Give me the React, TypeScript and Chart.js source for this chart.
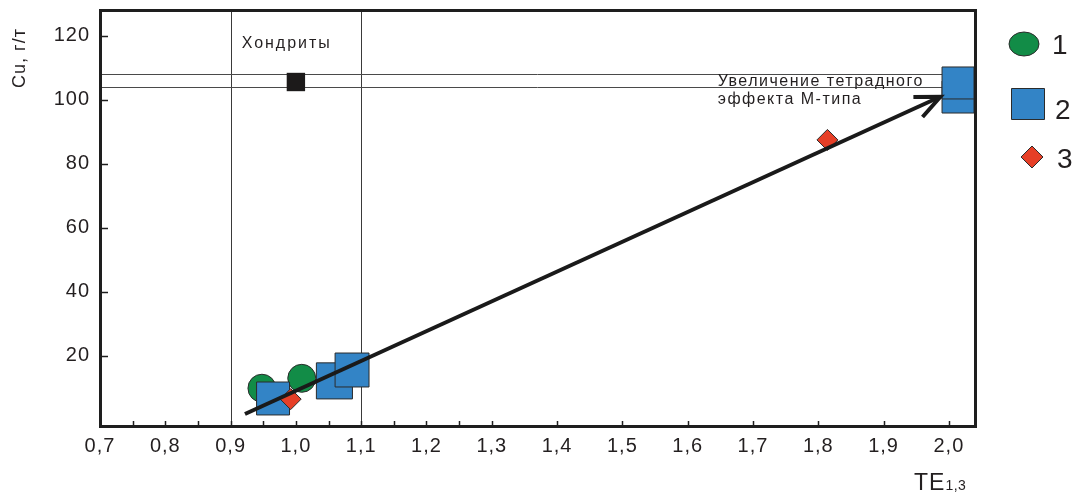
import { useEffect, useRef } from "react";
import { Chart, registerables } from "chart.js";

Chart.register(...registerables);

// Samples: tetrad effect TE1,3 against copper content (g/t)
const group1TE = [0.948, 1.009];
const group1Cu = [9.8, 12.9];
const group2TE = [0.965, 1.059, 1.086, 2.014, 2.014];
const group2Cu = [6.6, 12.1, 15.5, 100.8, 105.2];
const group3TE = [0.992, 1.814];
const group3Cu = [6.4, 87.4];

// Chondrite reference value and its guide band
const chondriteTE = [1.0];
const chondriteCu = [105.5];
const chondriteTEBand = [0.9, 1.1];
const chondriteCuBand = [104, 108];

// Trend arrow (start and end, in TE / Cu units)
const trendFrom = [0.922, 1.75];
const trendTo = [1.987, 100.9];

// Axis ticks
const xTickLabels = [0.7, 0.8, 0.9, 1.0, 1.1, 1.2, 1.3, 1.4, 1.5, 1.6, 1.7, 1.8, 1.9, 2.0];
const xTickMarks = [0.75, 0.8, 0.85, 0.9, 0.95, 1.0, 1.05, 1.1, 1.15, 1.2, 1.25, 1.3, 1.4, 1.5, 1.6, 1.7, 1.8, 1.9, 2.0];
const yTickLabels = [20, 40, 60, 80, 100, 120];
const legendLabels = ["1", "2", "3"];

const INK = "#231f20";
const GREEN = "#128c47";
const BLUE = "#3384c6";
const RED = "#e63f27";
const EDGE = "#2b2b2b";
const FONT = "'Liberation Sans', Arial, sans-serif";

const fmt = (v: number) => v.toFixed(1).replace(".", ",");
const toPoints = (xs: number[], ys: number[]) => xs.map((x, i) => ({ x, y: ys[i] }));

const spacingPlugin = {
  id: "letterSpacing",
  beforeDraw(chart: any) {
    (chart.ctx as any).letterSpacing = "1px";
  },
};

const guidesPlugin = {
  id: "guides",
  beforeDatasetsDraw(chart: any) {
    const { ctx, chartArea: a, scales } = chart;
    const xs = scales.x;
    const ys = scales.y;
    ctx.save();
    ctx.lineWidth = 1;
    ctx.strokeStyle = "#3a3a3a";
    chondriteTEBand.forEach((v) => {
      const px = Math.round(xs.getPixelForValue(v)) + 0.5;
      ctx.beginPath();
      ctx.moveTo(px, a.top);
      ctx.lineTo(px, a.bottom);
      ctx.stroke();
    });
    ctx.strokeStyle = "#4a4a4a";
    chondriteCuBand.forEach((v) => {
      const py = Math.round(ys.getPixelForValue(v)) + 0.5;
      ctx.beginPath();
      ctx.moveTo(a.left, py);
      ctx.lineTo(a.right, py);
      ctx.stroke();
    });
    ctx.restore();
  },
};

const overlayPlugin = {
  id: "overlay",
  afterDatasetsDraw(chart: any) {
    const { ctx, chartArea: a, scales } = chart;
    const xs = scales.x;
    const ys = scales.y;
    ctx.save();
    (ctx as any).letterSpacing = "0px";

    // trend arrow
    const x0 = xs.getPixelForValue(trendFrom[0]);
    const y0 = ys.getPixelForValue(trendFrom[1]);
    const x1 = xs.getPixelForValue(trendTo[0]);
    const y1 = ys.getPixelForValue(trendTo[1]);
    const ang = Math.atan2(y1 - y0, x1 - x0);
    ctx.strokeStyle = "#1a1a1a";
    ctx.lineWidth = 4;
    ctx.lineCap = "butt";
    ctx.beginPath();
    ctx.moveTo(x0, y0);
    ctx.lineTo(x1 - 2 * Math.cos(ang), y1 - 2 * Math.sin(ang));
    ctx.stroke();
    const len = 27;
    const spread = 0.42;
    ctx.lineJoin = "miter";
    ctx.beginPath();
    ctx.moveTo(x1 - len * Math.cos(ang - spread), y1 - len * Math.sin(ang - spread));
    ctx.lineTo(x1, y1);
    ctx.lineTo(x1 - len * Math.cos(ang + spread), y1 - len * Math.sin(ang + spread));
    ctx.stroke();

    // plot frame
    ctx.strokeStyle = "#1e1e1e";
    ctx.lineWidth = 3;
    ctx.strokeRect(a.left + 0.5, a.top + 0.5, a.right - a.left, a.bottom - a.top);

    // inward tick marks
    ctx.lineWidth = 1.5;
    yTickLabels.forEach((v) => {
      const py = Math.round(ys.getPixelForValue(v)) + 0.5;
      ctx.beginPath();
      ctx.moveTo(a.left, py);
      ctx.lineTo(a.left + 8, py);
      ctx.stroke();
    });
    xTickMarks.forEach((v) => {
      const px = Math.round(xs.getPixelForValue(v)) + 0.5;
      ctx.beginPath();
      ctx.moveTo(px, a.bottom);
      ctx.lineTo(px, a.bottom - 5);
      ctx.stroke();
    });

    // annotations
    ctx.fillStyle = INK;
    (ctx as any).letterSpacing = "2px";
    ctx.font = `16px ${FONT}`;
    ctx.textAlign = "center";
    ctx.textBaseline = "alphabetic";
    ctx.fillText("Хондриты", xs.getPixelForValue(0.986), ys.getPixelForValue(116.2));
    (ctx as any).letterSpacing = "1.5px";
    ctx.textAlign = "left";
    ctx.fillText("Увеличение тетрадного", xs.getPixelForValue(1.646), ys.getPixelForValue(104.3));
    ctx.fillText("эффекта М-типа", xs.getPixelForValue(1.646), ys.getPixelForValue(98.6));

    // axis titles
    (ctx as any).letterSpacing = "1px";
    ctx.save();
    ctx.translate(20, 58);
    ctx.rotate(-Math.PI / 2);
    ctx.textAlign = "center";
    ctx.textBaseline = "middle";
    ctx.font = `18px ${FONT}`;
    ctx.fillText("Cu, г/т", 0, 0);
    ctx.restore();

    ctx.textAlign = "left";
    ctx.textBaseline = "alphabetic";
    ctx.font = `23px ${FONT}`;
    ctx.fillText("TE", 914, 490);
    const teW = ctx.measureText("TE").width;
    ctx.font = `14px ${FONT}`;
    (ctx as any).letterSpacing = "0.5px";
    ctx.fillText("1,3", 914 + teW, 490);

    // legend
    (ctx as any).letterSpacing = "0px";
    ctx.lineWidth = 1;
    ctx.strokeStyle = EDGE;
    ctx.fillStyle = GREEN;
    ctx.beginPath();
    ctx.ellipse(1024, 44, 15, 12, 0, 0, Math.PI * 2);
    ctx.fill();
    ctx.stroke();
    ctx.fillStyle = BLUE;
    ctx.beginPath();
    ctx.rect(1011.5, 88.5, 33, 31);
    ctx.fill();
    ctx.stroke();
    ctx.fillStyle = RED;
    ctx.beginPath();
    ctx.moveTo(1032, 146);
    ctx.lineTo(1043, 157);
    ctx.lineTo(1032, 168);
    ctx.lineTo(1021, 157);
    ctx.closePath();
    ctx.fill();
    ctx.stroke();

    ctx.fillStyle = INK;
    ctx.font = `28px ${FONT}`;
    ctx.textAlign = "left";
    ctx.fillText(legendLabels[0], 1052, 54);
    ctx.fillText(legendLabels[1], 1055, 119);
    ctx.fillText(legendLabels[2], 1057, 168);

    ctx.restore();
  },
};

export default function App() {
  const canvasRef = useRef<HTMLCanvasElement | null>(null);

  useEffect(() => {
    const canvas = canvasRef.current;
    if (!canvas) return;
    const tickFont = { family: FONT, size: 20 };
    const chart = new Chart(canvas, {
      type: "scatter",
      data: {
        datasets: [
          {
            label: "1",
            data: toPoints(group1TE, group1Cu),
            pointStyle: "circle",
            pointRadius: 14,
            backgroundColor: GREEN,
            borderColor: EDGE,
            borderWidth: 1,
            order: 3,
            clip: false as any,
          },
          {
            label: "2",
            data: toPoints(group2TE, group2Cu),
            pointStyle: "rect",
            pointRadius: [23.3, 25.5, 24, 22.6, 22.6],
            backgroundColor: BLUE,
            borderColor: EDGE,
            borderWidth: 1,
            order: 2,
            clip: false as any,
          },
          {
            label: "3",
            data: toPoints(group3TE, group3Cu),
            pointStyle: "rectRot",
            pointRadius: 10.5,
            backgroundColor: RED,
            borderColor: EDGE,
            borderWidth: 1,
            order: 1,
            clip: false as any,
          },
          {
            label: "Хондриты",
            data: toPoints(chondriteTE, chondriteCu),
            pointStyle: "rect",
            pointRadius: 13,
            backgroundColor: "#1c1a1a",
            borderColor: "#1c1a1a",
            borderWidth: 0,
            order: 0,
          },
        ],
      },
      options: {
        animation: false,
        responsive: false,
        events: [],
        layout: { autoPadding: false, padding: { top: 10, right: 104, left: 0, bottom: 0 } },
        plugins: {
          legend: { display: false },
          tooltip: { enabled: false },
        },
        scales: {
          x: {
            type: "linear",
            min: 0.7,
            max: 2.04,
            grid: { display: false, drawTicks: false },
            border: { display: false },
            afterBuildTicks: (s: any) => {
              s.ticks = xTickLabels.map((v) => ({ value: v }));
            },
            afterFit: (s: any) => {
              s.height = 71;
              s.paddingLeft = 0;
              s.paddingRight = 0;
            },
            ticks: {
              autoSkip: false,
              maxRotation: 0,
              minRotation: 0,
              padding: 8,
              color: INK,
              font: tickFont,
              callback: (v: any) => fmt(Number(v)),
            },
          },
          y: {
            type: "linear",
            min: -2,
            max: 128,
            grid: { display: false, drawTicks: false },
            border: { display: false },
            afterBuildTicks: (s: any) => {
              s.ticks = yTickLabels.map((v) => ({ value: v }));
            },
            afterFit: (s: any) => {
              s.width = 100;
              s.paddingTop = 0;
              s.paddingBottom = 0;
            },
            ticks: {
              autoSkip: false,
              padding: 10,
              color: INK,
              font: tickFont,
              callback: (v: any) => String(v),
            },
          },
        },
      },
      plugins: [spacingPlugin, guidesPlugin, overlayPlugin],
    });
    return () => chart.destroy();
  }, []);

  return (
    <div style={{ position: "fixed", left: 0, top: 0, width: 1079, height: 497, background: "#ffffff" }}>
      <canvas ref={canvasRef} width={1079} height={497} style={{ display: "block" }} />
    </div>
  );
}
